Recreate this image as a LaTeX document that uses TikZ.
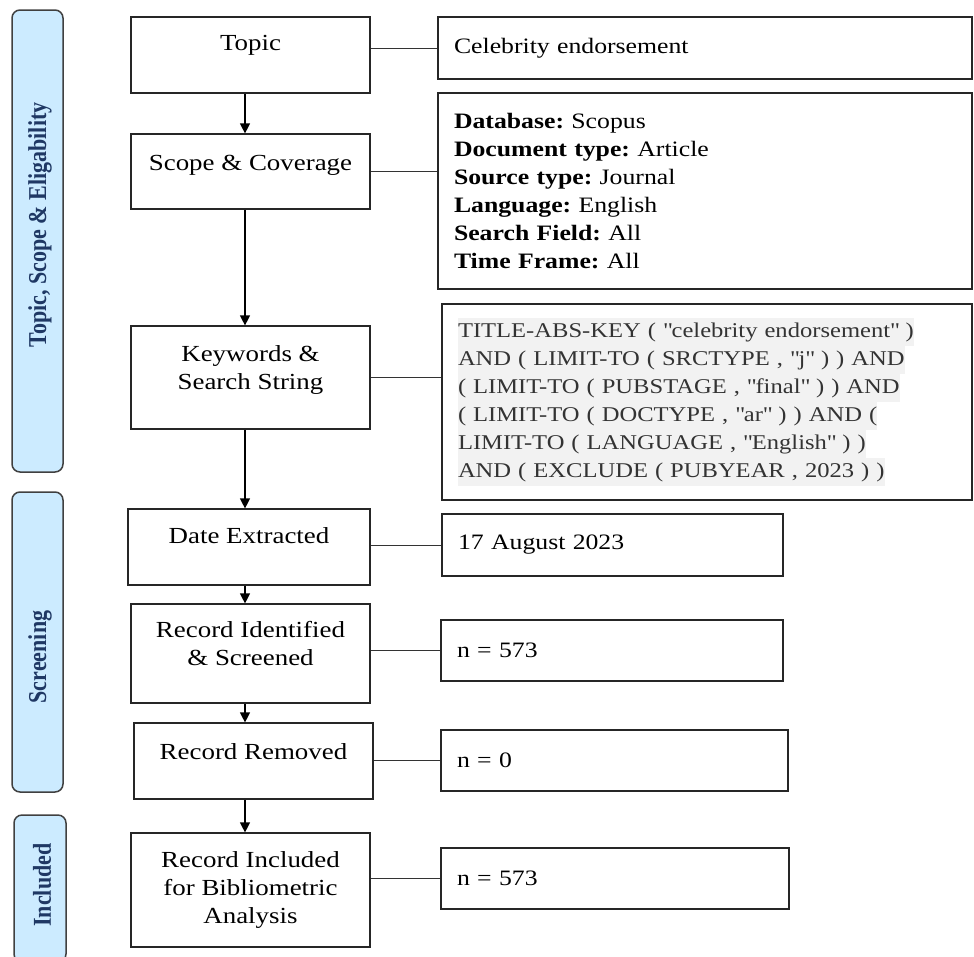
\documentclass[tikz,border=0pt]{standalone}
\usepackage{fontspec}
\setmainfont{Liberation Serif}[FakeStretch=1.17]
\newfontfamily\barfont{Liberation Serif}
\usepackage{tikz}
\usetikzlibrary{arrows.meta}
\usetikzlibrary{positioning}
\definecolor{barfill}{HTML}{CCEBFF}
\definecolor{barline}{HTML}{404040}
\definecolor{bartext}{HTML}{1F3864}
\definecolor{querytext}{HTML}{333333}
\definecolor{queryfill}{HTML}{F2F2F2}
\frenchspacing
\setlength{\fboxsep}{0pt}
\newcommand{\queryline}[1]{\colorbox{queryfill}{\strut #1}}
\newcommand{\dq}{\textquotedbl}
\newcommand{\bartitle}[1]{\scalebox{1}[1.17]{#1}}
\tikzset{
    phase_bar/.style = {rectangle, rounded corners=8pt, draw=barline, fill=barfill, line width=1.5pt, rotate=90, inner sep=0pt},
    bar_label/.style = {rotate=90, inner sep=0pt, text=bartext, font=\barfont\bfseries\fontsize{22}{26}\selectfont},
    stage_box/.style = {rectangle, draw=black!85, line width=1.2pt, minimum width=239pt, inner sep=0pt},
    stage_text/.style = {align=center, inner sep=0pt, font=\fontsize{23}{28}\selectfont},
    info_box/.style = {rectangle, draw=black!85, line width=1.2pt, inner xsep=16pt, inner ysep=0pt, align=left, font=\fontsize{22}{28}\selectfont},
    link/.style = {draw=black!80, line width=1pt},
    flow/.style = {draw=black, line width=1.2pt, -{Triangle[length=10pt, width=10pt]}}
}
\begin{document}
\begin{tikzpicture}[x=1pt, y=-1pt]
\useasboundingbox (0,0) rectangle (974,956);
\clip (0,0) rectangle (974,956);

\node[phase_bar, minimum width=462pt, minimum height=51pt] (bar_a) at (37.5,241) {};
\node[bar_label] (bar_a_txt) at (40,225) {\bartitle{Topic, Scope \& Eligability}};
\node[phase_bar, minimum width=300pt, minimum height=51pt] (bar_b) at (37.5,642) {};
\node[bar_label] (bar_b_txt) at (40,657) {\bartitle{Screening}};
\node[phase_bar, minimum width=147pt, minimum height=52pt] (bar_c) at (40,888.5) {};
\node[bar_label] (bar_c_txt) at (42,885) {\bartitle{Included}};

\node[stage_box, minimum height=76pt] (topic) at (250.5,55) {};
\node[stage_text, below=19pt of topic.north] (topic_txt) {Topic};
\node[stage_box, minimum height=75pt] (scope) at (250.5,171.5) {};
\node[stage_text, below=22pt of scope.north] (scope_txt) {Scope \& Coverage};
\node[stage_box, minimum height=103pt] (keys) at (250.5,377.5) {};
\node[stage_text, below=20pt of keys.north] (keys_txt) {Keywords \&\\Search String};
\node[stage_box, minimum width=242pt, minimum height=76pt] (date) at (249,547) {};
\node[stage_text, below=19pt of date.north] (date_txt) {Date Extracted};
\node[stage_box, minimum height=99pt] (ident) at (250.5,653.5) {};
\node[stage_text, below=18pt of ident.north] (ident_txt) {Record Identified\\\& Screened};
\node[stage_box, minimum height=76pt] (removed) at (253.5,761) {};
\node[stage_text, below=21pt of removed.north] (removed_txt) {Record Removed};
\node[stage_box, minimum height=114pt] (incl) at (250.5,890) {};
\node[stage_text, below=19pt of incl.north] (incl_txt) {Record Included\\for Bibliometric\\Analysis};

\node[info_box, text width=502pt, minimum height=62pt] (celeb) at (705,48) {Celebrity endorsement};
\node[info_box, text width=502pt, minimum height=196pt] (db) at (705,191) {%
\textbf{Database:} Scopus\\
\textbf{Document type:} Article\\
\textbf{Source type:} Journal\\
\textbf{Language:} English\\
\textbf{Search Field:} All\\
\textbf{Time Frame:} All};
\node[info_box, text width=498pt, minimum height=196pt, text=querytext, font=\fontsize{21}{28}\selectfont] (query) at (707,402) {%
\queryline{TITLE-ABS-KEY ( \dq celebrity endorsement\dq\ )}\\
\queryline{AND ( LIMIT-TO ( SRCTYPE , \dq j\dq\ ) ) AND}\\
\queryline{( LIMIT-TO ( PUBSTAGE , \dq final\dq\ ) ) AND}\\
\queryline{( LIMIT-TO ( DOCTYPE , \dq ar\dq\ ) ) AND (}\\
\queryline{LIMIT-TO ( LANGUAGE , \dq English\dq\ ) )}\\
\queryline{AND ( EXCLUDE ( PUBYEAR , 2023 ) )}};
\node[info_box, text width=309pt, minimum height=62pt] (dated) at (612.5,545) {17 August 2023};
\node[info_box, text width=310pt, minimum height=61pt] (nrec) at (612,650.5) {n = 573};
\node[info_box, text width=315pt, minimum height=61pt] (nrem) at (614.5,760.5) {n = 0};
\node[info_box, text width=316pt, minimum height=61pt] (ninc) at (615,878.5) {n = 573};

\draw[link] (celeb.west -| topic.east) -- (celeb.west);
\draw[link] (scope.east) -- (scope.east -| db.west);
\draw[link] (keys.east) -- (keys.east -| query.west);
\draw[link] (dated.west -| date.east) -- (dated.west);
\draw[link] (nrec.west -| ident.east) -- (nrec.west);
\draw[link] (nrem.west -| removed.east) -- (nrem.west);
\draw[link] (ninc.west -| incl.east) -- (ninc.west);

\coordinate (spine) at (245,0);
\draw[flow] (topic.south -| spine) -- (scope.north -| spine);
\draw[flow] (scope.south -| spine) -- (keys.north -| spine);
\draw[flow] (keys.south -| spine) -- (date.north -| spine);
\draw[flow] (date.south -| spine) -- (ident.north -| spine);
\draw[flow] (ident.south -| spine) -- (removed.north -| spine);
\draw[flow] (removed.south -| spine) -- (incl.north -| spine);
\end{tikzpicture}
\end{document}
